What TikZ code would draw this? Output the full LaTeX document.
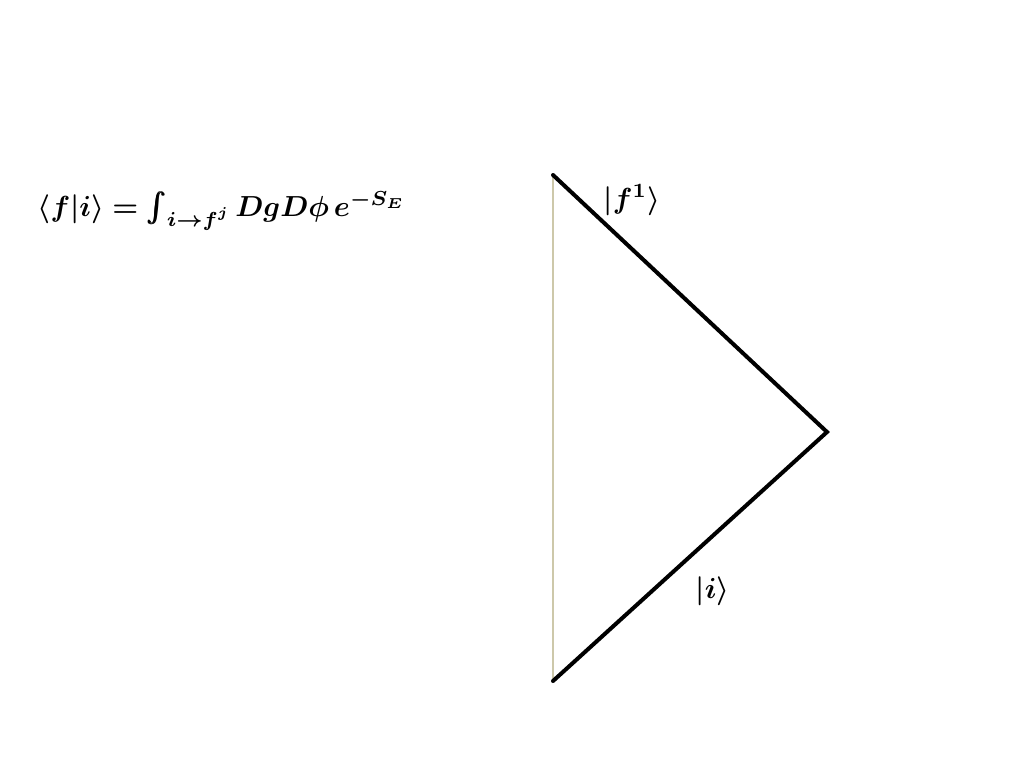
\documentclass[tikz,border=0pt]{standalone}
\usepackage{amsmath}
\usepackage{bm}
\definecolor{thinline}{RGB}{205,200,170}
\begin{document}
\begin{tikzpicture}[x=1pt,y=-1pt,
  thick line/.style={line width=4pt,line cap=round,line join=miter},
  lbl/.style={inner sep=0pt,anchor=base west,scale=2.9}]
\useasboundingbox (0,0) rectangle (1024,768);
\coordinate (top) at (553,175);
\coordinate (apex) at (827,432);
\coordinate (bot) at (553,681);
\draw[thinline,line width=1.2pt] (top) -- (bot);
\draw[thick line] (top) -- (apex) -- (bot);
\node[lbl] (formula) at (37,216)
  {$\bm{\langle f|i\rangle = \int_{i\to f^j} DgD\phi\, e^{-S_E}}$};
\node[lbl] (flabel) at (603,208) {$\bm{|f^1\rangle}$};
\node[lbl] (ilabel) at (695,598) {$\bm{|i\rangle}$};
\end{tikzpicture}
\end{document}
